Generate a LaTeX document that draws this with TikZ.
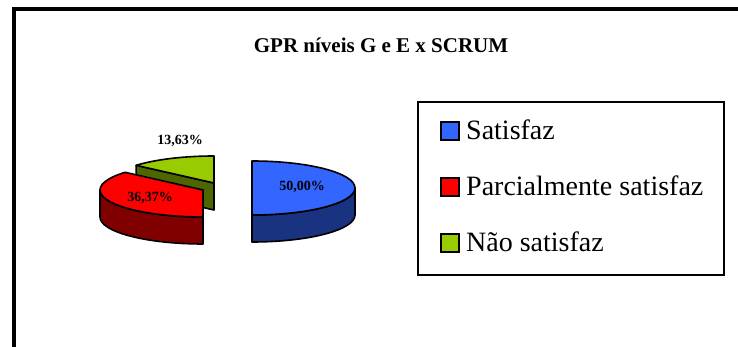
\documentclass[tikz,border=0pt]{standalone}
\usepackage{fontspec}
\setmainfont{Liberation Serif}
\usetikzlibrary{calc}
\definecolor{bluetop}{HTML}{3366FF}
\definecolor{blueside}{HTML}{1A3380}
\definecolor{redtop}{HTML}{FF0000}
\definecolor{redside}{HTML}{800000}
\definecolor{greentop}{HTML}{99CC00}
\definecolor{greenside}{HTML}{4D6600}
\tikzset{
  slice/.style={draw=black, line width=1.6pt, line join=round},
  pct/.style={font=\fontsize{14}{16}\selectfont\bfseries, inner sep=0pt},
  keybox/.style={draw=black, line width=1.4pt, minimum size=18pt, inner sep=0pt},
  keytext/.style={font=\fontsize{28}{32}\selectfont, anchor=base west, inner sep=0pt},
}
\begin{document}
\begin{tikzpicture}[x=1pt, y=1pt]
  \useasboundingbox (0,0) rectangle (738,347);
  \fill[white] (0,0) rectangle (738,347);

  % chart frame (top and left edges)
  \draw[line width=4pt] (14,-5) -- (14,338) -- (745,338);

  % title
  \node[font=\fontsize{21}{25}\selectfont\bfseries, anchor=base, inner sep=0pt]
    (title) at (381,294) {GPR níveis G e E x SCRUM};

  \def\rx{103}\def\ry{27}\def\dep{27}

  % slice centres
  \coordinate (cg) at (214,164);
  \coordinate (cr) at (203,157);
  \coordinate (cb) at (252,159);

  % --- Não satisfaz (green, back) ---
  \coordinate (gp) at ($(cg)+({\rx*cos(139.1)},{\ry*sin(139.1)})$);
  \draw[slice, fill=greenside] (cg) -- (gp) -- ++(0,-\dep) -- ($(cg)+(0,-\dep)$) -- cycle;
  \draw[slice, fill=greentop] (cg) -- ($(cg)+(0,\ry)$)
    arc[start angle=90, end angle=139.1, x radius=\rx, y radius=\ry] -- cycle;

  % --- Parcialmente satisfaz (red) ---
  \draw[slice, fill=redside] ($(cr)+(-\rx,0)$)
    arc[start angle=180, end angle=270, x radius=\rx, y radius=\ry]
    -- ++(0,-\dep)
    arc[start angle=270, end angle=180, x radius=\rx, y radius=\ry] -- cycle;
  \draw[slice, fill=redtop] (cr) -- ($(cr)+({\rx*cos(139.1)},{\ry*sin(139.1)})$)
    arc[start angle=139.1, end angle=270, x radius=\rx, y radius=\ry] -- cycle;

  % --- Satisfaz (blue) ---
  \draw[slice, fill=blueside] ($(cb)+(\rx,0)$)
    arc[start angle=0, end angle=-90, x radius=\rx, y radius=\ry]
    -- ++(0,-\dep)
    arc[start angle=-90, end angle=0, x radius=\rx, y radius=\ry] -- cycle;
  \draw[slice, fill=bluetop] ($(cb)+(0,\ry)$)
    arc[start angle=90, end angle=-90, x radius=\rx, y radius=\ry] -- cycle;

  % percentage labels
  \node[pct] (lb) at (302,160) {50,00\%};
  \node[pct] (lr) at (150,149) {36,37\%};
  \node[pct] (lg) at (180,206) {13,63\%};

  % legend
  \draw[line width=1.8pt] (418,72) rectangle (724,245);
  \node[keybox, fill=bluetop]  (k1) at (450,216) {};
  \node[keybox, fill=redtop]   (k2) at (450,160) {};
  \node[keybox, fill=greentop] (k3) at (450,104) {};
  \node[keytext] (t1) at (466,207) {Satisfaz};
  \node[keytext] (t2) at (466,151) {Parcialmente satisfaz};
  \node[keytext] (t3) at (466,95)  {Não satisfaz};
\end{tikzpicture}
\end{document}
